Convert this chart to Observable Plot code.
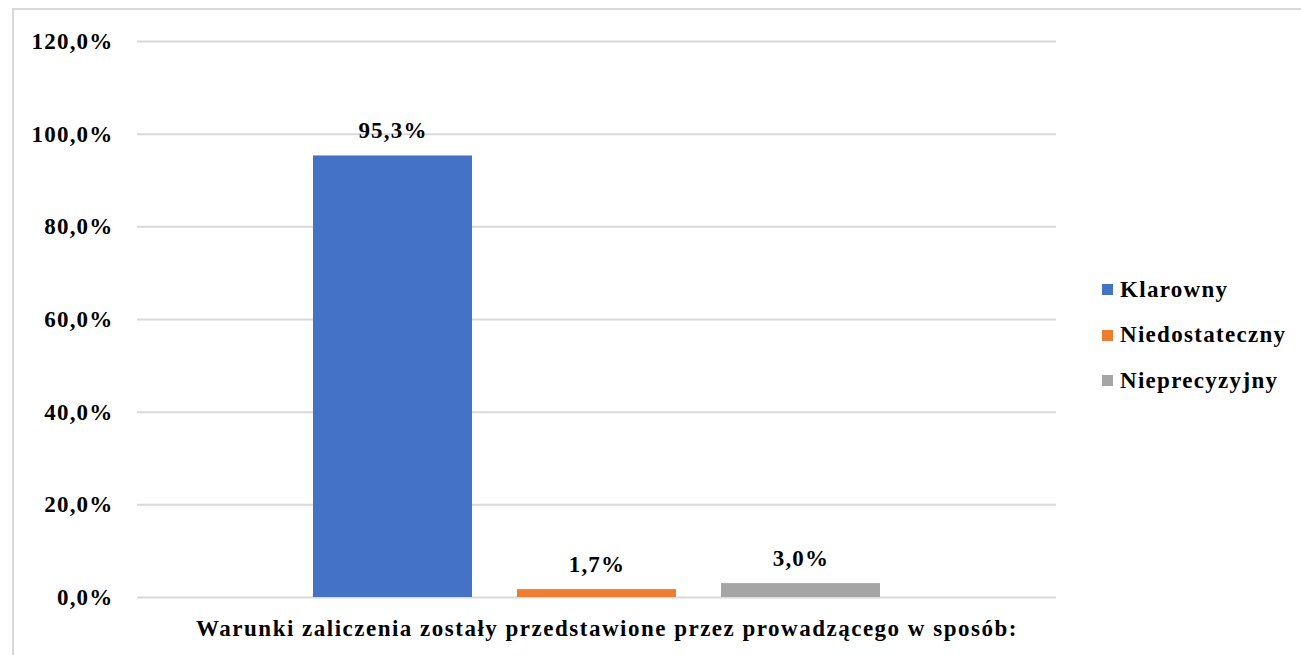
<!DOCTYPE html>
<html>
<head>
<meta charset="utf-8">
<script src="https://cdn.jsdelivr.net/npm/d3@7"></script>
<script src="https://cdn.jsdelivr.net/npm/@observablehq/plot@0.6"></script>
<style>
  html, body { margin: 0; padding: 0; background: #fff; overflow: hidden; width: 1301px; height: 655px; }
  #wrap { position: relative; width: 1301px; height: 655px; }
  #border { position: absolute; left: 12px; top: 8px; width: 1400px; height: 800px; border-left: 2px solid #d9d9d9; border-top: 2px solid #d9d9d9; }
  #chart { position: absolute; left: 0; top: 0; }
  #chart svg text { letter-spacing: 1.2px; }
  #chart svg text.xtitle { letter-spacing: 1.5px; }
  #legend { position: absolute; left: 1102px; top: 267px; font-family: "Liberation Serif", "Times New Roman", serif; font-weight: bold; font-size: 23px; color: #000; letter-spacing: 1.3px; }
  .item { display: flex; align-items: center; height: 45.5px; }
  .sw { width: 11px; height: 11px; margin-right: 7px; }
</style>
</head>
<body>
<div id="wrap">
  <div id="border"></div>
  <div id="chart"></div>
  <div id="legend"></div>
</div>
<script>
const categories = ["Klarowny", "Niedostateczny", "Nieprecyzyjny"];
const values = [95.3, 1.7, 3.0];
const colors = ["#4472C4", "#ED7D31", "#A5A5A5"];
const yTicks = [0, 20, 40, 60, 80, 100, 120];
const xTitle = "Warunki zaliczenia zostały przedstawione przez prowadzącego w sposób:";

const data = categories.map((c, i) => ({category: c, value: values[i]}));
const fmtTick = d => d.toFixed(1).replace(".", ",") + "%";
const fmtVal = d => d.toFixed(1).replace(".", ",") + "%";

const chart = Plot.plot({
  width: 1301,
  height: 655,
  marginLeft: 137,
  marginRight: 245,
  marginTop: 41,
  marginBottom: 58,
  style: {fontFamily: "'Liberation Serif', 'Times New Roman', serif", fontWeight: "bold", fontSize: "23px", color: "#000", background: "transparent"},
  x: {domain: categories, paddingInner: 0.2206, paddingOuter: 0.8627, axis: null},
  y: {domain: [0, 120], ticks: yTicks, tickFormat: fmtTick, tickSize: 0, tickPadding: 24, label: null},
  color: {domain: categories, range: colors},
  marks: [
    Plot.ruleY(yTicks, {stroke: "#d9d9d9", strokeWidth: 2}),
    Plot.barY(data, {x: "category", y: "value", fill: "category"}),
    Plot.text(data, {x: "category", y: "value", text: d => fmtVal(d.value), dy: -25, fontSize: 23, fontWeight: "bold", fill: "#000"}),
    Plot.text([xTitle], {frameAnchor: "bottom", dy: 38, dx: 10, fontSize: 23, fontWeight: "bold", fill: "#000", className: "xtitle"})
  ]
});
document.getElementById("chart").appendChild(chart);
chart.querySelectorAll("g.xtitle text, .xtitle text").forEach(t => t.classList.add("xtitle"));

const legend = document.getElementById("legend");
categories.forEach((c, i) => {
  const item = document.createElement("div");
  item.className = "item";
  const sw = document.createElement("span");
  sw.className = "sw";
  sw.style.background = colors[i];
  const t = document.createElement("span");
  t.textContent = c;
  item.appendChild(sw);
  item.appendChild(t);
  legend.appendChild(item);
});
</script>
</body>
</html>
